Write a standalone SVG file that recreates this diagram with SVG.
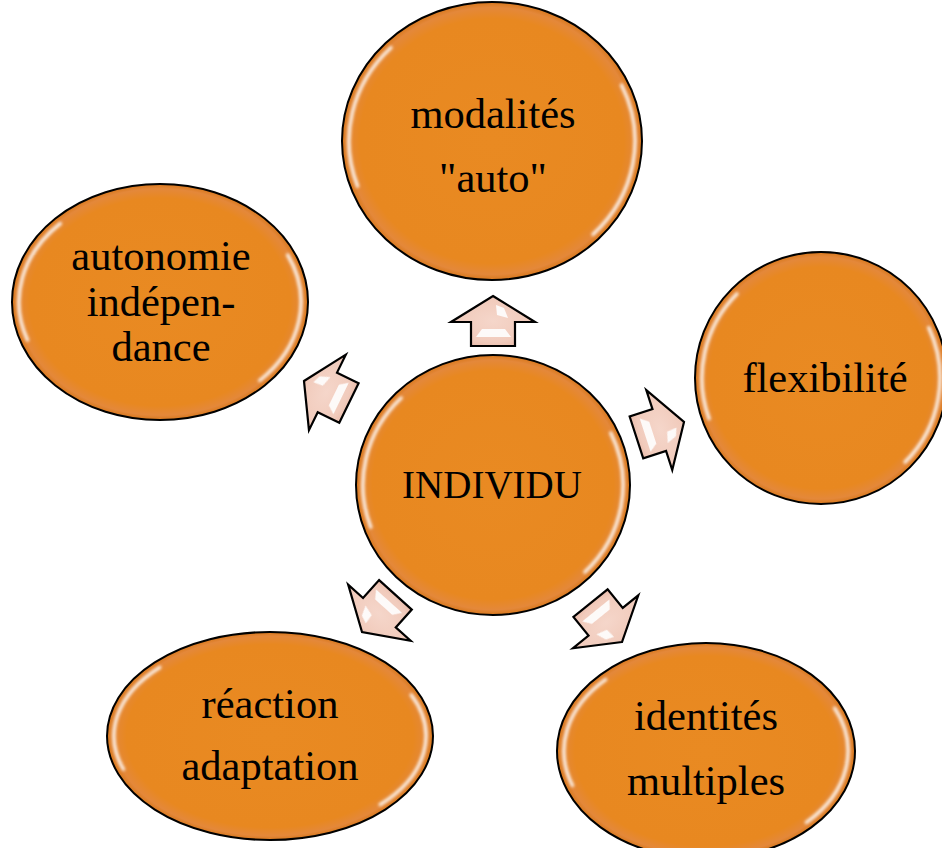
<svg xmlns="http://www.w3.org/2000/svg" xmlns:xlink="http://www.w3.org/1999/xlink" width="942" height="848" viewBox="0 0 942 848">
  <defs>
    <radialGradient id="orange" cx="50%" cy="50%" r="50%">
      <stop offset="0" stop-color="#E98A22"/>
      <stop offset="0.88" stop-color="#E88820"/>
      <stop offset="0.96" stop-color="#E4883A"/>
      <stop offset="1" stop-color="#D8781C"/>
    </radialGradient>
    <radialGradient id="pink" cx="50%" cy="50%" r="60%">
      <stop offset="0" stop-color="#F5D6CA"/>
      <stop offset="0.7" stop-color="#F1CBBC"/>
      <stop offset="1" stop-color="#E9B8A6"/>
    </radialGradient>
    <filter id="soft" x="-20%" y="-20%" width="140%" height="140%">
      <feGaussianBlur stdDeviation="1.5"/>
    </filter>
    <filter id="softer" x="-30%" y="-30%" width="160%" height="160%">
      <feGaussianBlur stdDeviation="0.7"/>
    </filter>
    <!-- block arrow pointing up, tip at the origin -->
    <path id="arrow" d="M0,0 L42,26 L22,26 L22,50 L-22,50 L-22,26 L-42,26 Z"/>
    <g id="arrowGloss">
      <polygon points="3,9 11,12 15,22 4,19"/>
      <polygon points="-11,33 12,33 18,41 -17,41"/>
    </g>
  </defs>
  <style>
    .node ellipse { fill: url(#orange); stroke: #000; stroke-width: 2; }
    .gl { fill: none; stroke: #FFFFFF; stroke-width: 3.5; stroke-linecap: round; opacity: 0.85; }
    .label { font-family: "Liberation Serif", "Times New Roman", serif; font-size: 42.5px; fill: #000; text-anchor: middle; }
    .label.core { font-size: 39px; }
    .arr use.body { fill: url(#pink); stroke: #000; stroke-width: 2.2; stroke-linejoin: miter; }
    .arr use.shine { fill: #FFFFFF; opacity: 0.9; }
  </style>

  <rect width="942" height="848" fill="#FFFFFF"/>

  <!-- connectors: block arrows radiating from the centre -->
  <g id="connectors" class="arr">
    <g transform="translate(493,296) rotate(0)">
      <use class="body" xlink:href="#arrow"/>
      <use class="shine" xlink:href="#arrowGloss" filter="url(#softer)"/>
    </g>
    <g transform="translate(684,422) rotate(72)">
      <use class="body" xlink:href="#arrow"/>
      <use class="shine" xlink:href="#arrowGloss" filter="url(#softer)"/>
    </g>
    <g transform="translate(622,642) rotate(141)">
      <use class="body" xlink:href="#arrow"/>
      <use class="shine" xlink:href="#arrowGloss" filter="url(#softer)"/>
    </g>
    <g transform="translate(362,632) rotate(222)">
      <use class="body" xlink:href="#arrow"/>
      <use class="shine" xlink:href="#arrowGloss" filter="url(#softer)"/>
    </g>
    <g transform="translate(304,381) rotate(-64)">
      <use class="body" xlink:href="#arrow"/>
      <use class="shine" xlink:href="#arrowGloss" filter="url(#softer)"/>
    </g>
  </g>

  <!-- centre -->
  <g id="individu" class="node">
    <ellipse cx="493" cy="485" rx="137" ry="130"/>
    <path class="gl" filter="url(#soft)" d="M401.1,398 A130,123 0 0 0 370.8,527.1 M610.8,433 A130,123 0 0 1 584.9,572"/>
    <text class="label core" x="492" y="498">INDIVIDU</text>
  </g>

  <g id="modalites" class="node">
    <ellipse cx="492" cy="141" rx="150" ry="139"/>
    <path class="gl" filter="url(#soft)" d="M390.9,47.7 A143,132 0 0 0 357.6,186.1 M621.6,85.2 A143,132 0 0 1 593.1,234.3"/>
    <text class="label" x="493" y="128">modalités</text>
    <text class="label" x="493" y="192">"auto"</text>
  </g>

  <g id="autonomie" class="node">
    <ellipse cx="160" cy="302" rx="148" ry="118"/>
    <path class="gl" filter="url(#soft)" d="M60.3,223.5 A141,111 0 0 0 27.5,340 M287.7,255 A141,111 0 0 1 259.7,380.5"/>
    <text class="label" x="161" y="270">autonomie</text>
    <text class="label" x="161" y="316">indépen-</text>
    <text class="label" x="161" y="361">dance</text>
  </g>

  <g id="flexibilite" class="node">
    <ellipse cx="821" cy="378" rx="126" ry="126"/>
    <path class="gl" filter="url(#soft)" d="M736.9,293.9 A119,119 0 0 0 709.1,418.7 M928.8,327.7 A119,119 0 0 1 905.1,462.1"/>
    <text class="label" x="825" y="392">flexibilité</text>
  </g>

  <g id="identites" class="node">
    <ellipse cx="706" cy="751" rx="149" ry="108"/>
    <path class="gl" filter="url(#soft)" d="M605.6,679.6 A142,101 0 0 0 572.5,785.5 M834.7,708.3 A142,101 0 0 1 806.4,822.4"/>
    <text class="label" x="706" y="730">identités</text>
    <text class="label" x="706" y="795">multiples</text>
  </g>

  <g id="reaction" class="node">
    <ellipse cx="270" cy="736" rx="163" ry="104"/>
    <path class="gl" filter="url(#soft)" d="M159.7,667.4 A156,97 0 0 0 123.4,769.2 M411.3,695 A156,97 0 0 1 380.3,804.6"/>
    <text class="label" x="270" y="718">réaction</text>
    <text class="label" x="270" y="780">adaptation</text>
  </g>
</svg>
